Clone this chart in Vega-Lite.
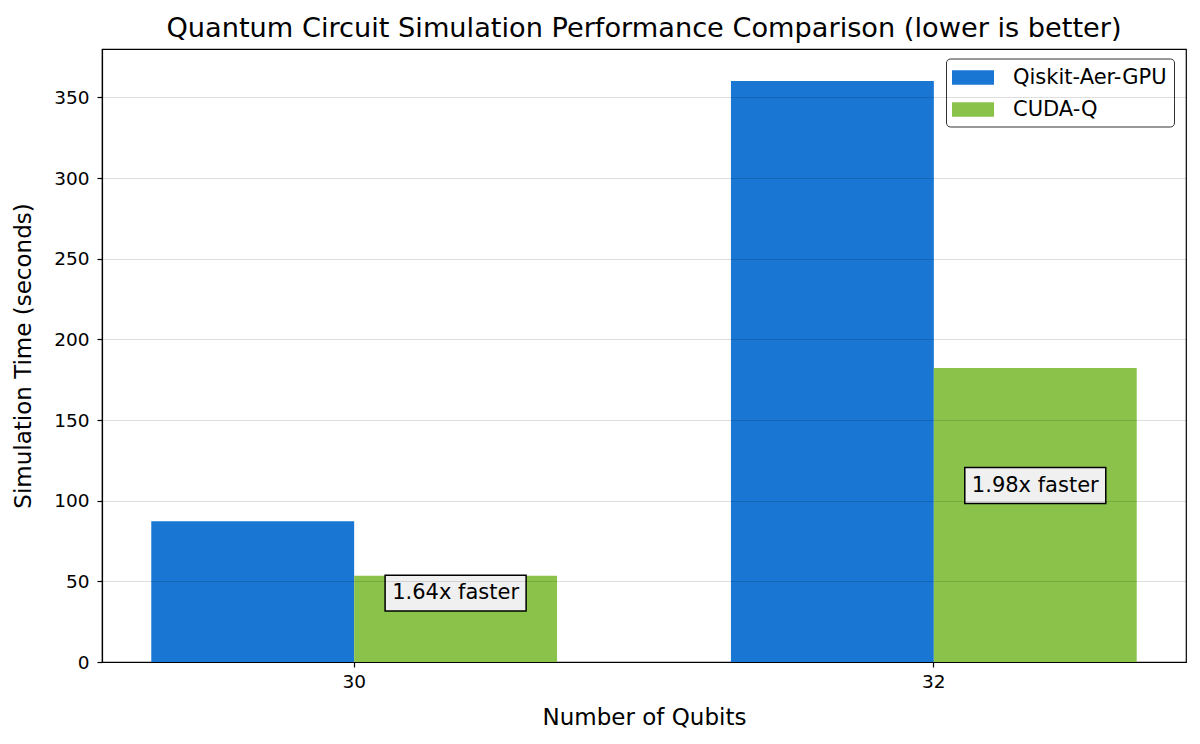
{
  "$schema": "https://vega.github.io/schema/vega-lite/v6.json",
  "autosize": {"type": "none"},
  "width": 1084,
  "height": 613,
  "padding": {"left": 102, "top": 49, "right": 14, "bottom": 82},
  "background": "white",
  "title": {
    "text": "Quantum Circuit Simulation Performance Comparison (lower is better)",
    "fontSize": 27.2,
    "fontWeight": "normal",
    "color": "black",
    "offset": 6
  },
  "config": {
    "font": "DejaVu Sans",
    "view": {"stroke": "black", "strokeWidth": 1.2},
    "axis": {
      "domainColor": "black",
      "domainWidth": 1.2,
      "tickColor": "black",
      "tickSize": 5,
      "tickWidth": 1.2,
      "labelColor": "black",
      "labelFontSize": 18.5,
      "titleColor": "black",
      "titleFontSize": 23,
      "titleFontWeight": "normal"
    },
    "legend": {
      "labelFontSize": 21,
      "labelColor": "black"
    }
  },
  "datasets": {
    "times": [
      {"qubits": "30", "framework": "Qiskit-Aer-GPU", "time": 87.2},
      {"qubits": "30", "framework": "CUDA-Q", "time": 53.4},
      {"qubits": "32", "framework": "Qiskit-Aer-GPU", "time": 360.2},
      {"qubits": "32", "framework": "CUDA-Q", "time": 182.3}
    ],
    "labels": [
      {"qubits": "30", "framework": "CUDA-Q", "label_y": 42.7, "label": "1.64x faster"},
      {"qubits": "32", "framework": "CUDA-Q", "label_y": 109.4, "label": "1.98x faster"}
    ]
  },
  "encoding": {
    "x": {
      "field": "qubits",
      "type": "nominal",
      "title": "Number of Qubits",
      "scale": {"paddingInner": 0.3, "paddingOuter": 0.085},
      "axis": {"labelAngle": 0, "labelPadding": 5, "titlePadding": 16, "grid": false}
    },
    "xOffset": {
      "field": "framework",
      "type": "nominal",
      "scale": {"domain": ["Qiskit-Aer-GPU", "CUDA-Q"], "paddingInner": 0, "paddingOuter": 0}
    }
  },
  "layer": [
    {
      "data": {"name": "times"},
      "mark": {"type": "bar"},
      "encoding": {
        "y": {
          "field": "time",
          "type": "quantitative",
          "title": "Simulation Time (seconds)",
          "scale": {"domain": [0, 380], "nice": false},
          "axis": {
            "values": [0, 50, 100, 150, 200, 250, 300, 350],
            "grid": true,
            "gridColor": "#000000",
            "gridOpacity": 0.13,
            "gridWidth": 1,
            "zindex": 1,
            "labelPadding": 8,
            "titlePadding": 18
          }
        },
        "color": {
          "field": "framework",
          "type": "nominal",
          "scale": {"domain": ["Qiskit-Aer-GPU", "CUDA-Q"], "range": ["#1976d2", "#8bc34a"]},
          "legend": {
            "title": null,
            "orient": "none",
            "legendX": 844,
            "legendY": 9.5,
            "symbolType": "M-1.083,-0.6125H2.417V0.6125H-1.083Z",
            "symbolSize": 576,
            "symbolStrokeWidth": 0,
            "labelOffset": 36,
            "rowPadding": 10,
            "padding": 7,
            "strokeColor": "#333333",
            "fillColor": "white",
            "cornerRadius": 4
          }
        }
      }
    },
    {
      "data": {"name": "labels"},
      "mark": {
        "type": "point",
        "shape": "M-1,-0.255H1V0.255H-1Z",
        "size": 19881,
        "filled": true,
        "fill": "#f0f0f0",
        "stroke": "black",
        "strokeWidth": 1.5,
        "opacity": 1
      },
      "encoding": {
        "y": {"field": "label_y", "type": "quantitative", "title": "Simulation Time (seconds)"}
      }
    },
    {
      "data": {"name": "labels"},
      "mark": {"type": "text", "fontSize": 21, "color": "black"},
      "encoding": {
        "y": {"field": "label_y", "type": "quantitative", "title": "Simulation Time (seconds)"},
        "text": {"field": "label"}
      }
    }
  ]
}
